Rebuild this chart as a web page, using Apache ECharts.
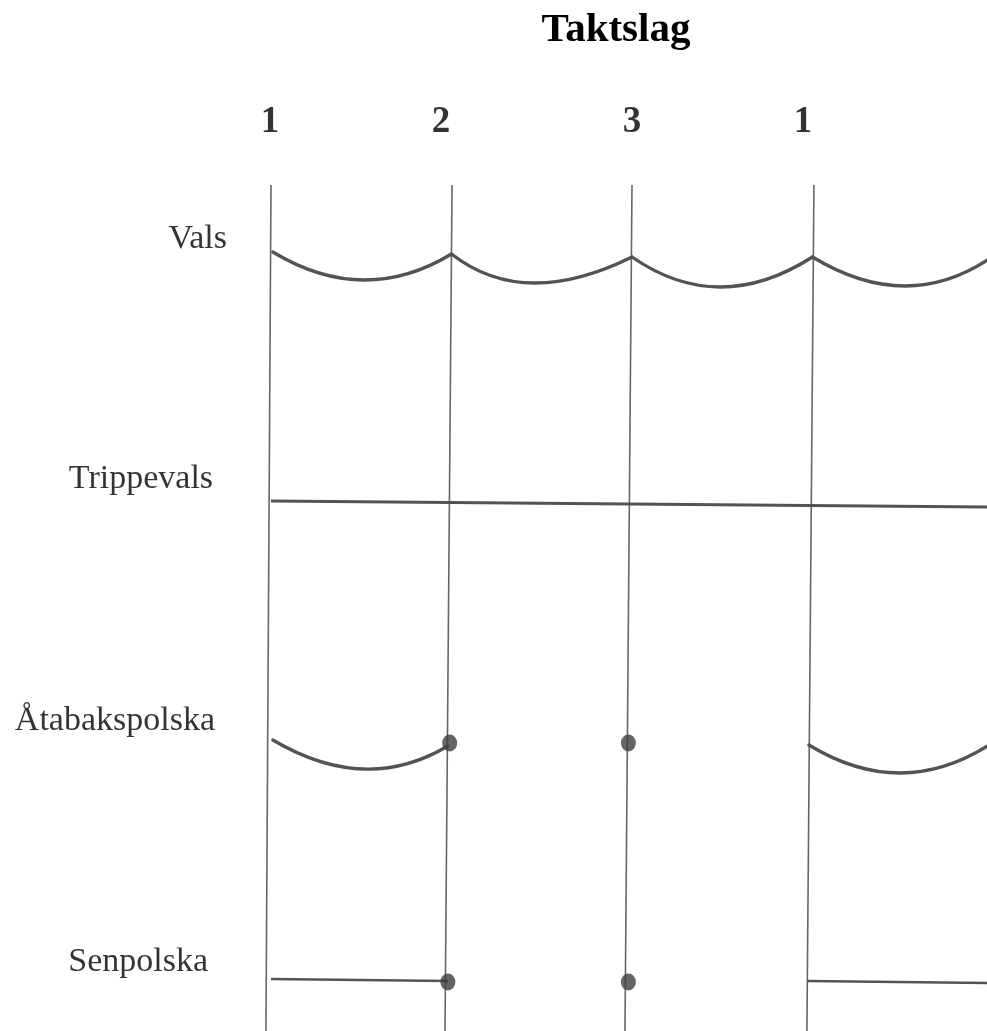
<!DOCTYPE html>
<html>
<head>
<meta charset="utf-8">
<script src="https://cdn.jsdelivr.net/npm/echarts@6/dist/echarts.min.js"></script>
<style>
html,body{margin:0;padding:0;background:#fff;}
#chart{width:987px;height:1031px;}
</style>
</head>
<body>
<div id="chart"></div>
<script>
// ---- data (x in beats, y in tenths of picture height units) ----
const titleText = 'Taktslag';
const beats = ['1', '2', '3', '1'];
const beatLabelX = [-0.006, 0.942, 2.0, 2.947];
const beatLabelY = 12.2;
const rowNames = ['Vals', 'Trippevals', 'Åtabakspolska', 'Senpolska'];
const rowLabelX = [-0.244, -0.321, -0.310, -0.349];
const rowLabelY = [23.9, 47.9, 72.1, 96.2];

// beat lines: [xTop, yTop, xBottom, yBottom]
const beatLines = [
  [0.000, 18.5, -0.028, 103.1],
  [1.003, 18.5, 0.964, 103.1],
  [2.000, 18.5, 1.961, 103.1],
  [3.008, 18.5, 2.969, 103.1]
];

// arcs: [xStart, yStart, xMid, yMid, xEnd, yEnd]
const valsArcs = [
  [0.01, 25.2, 0.51, 28.0, 1.00, 25.4],
  [1.00, 25.4, 1.45, 28.3, 2.00, 25.7],
  [2.00, 25.7, 2.49, 28.7, 3.00, 25.7],
  [3.00, 25.7, 3.50, 28.6, 3.97, 26.0]
];
const trippevalsLine = [[0.00, 50.1], [3.97, 50.7]];
const atabakArcs = [
  [0.01, 74.0, 0.51, 76.9, 0.98, 74.6],
  [2.98, 74.5, 3.48, 77.3, 3.97, 74.6]
];
const atabakDots = [[0.99, 74.3], [1.98, 74.3], [3.99, 74.5]];
const senpolskaLines = [
  [[0.00, 97.9], [0.98, 98.1]],
  [[2.97, 98.1], [3.97, 98.3]]
];
const senpolskaDots = [[0.98, 98.2], [1.98, 98.2], [3.99, 98.3]];

// ---- chart ----
const chart = echarts.init(document.getElementById('chart'), null, {renderer: 'canvas'});
const INK = '#535353';
const FONT = '"Liberation Serif", "Times New Roman", serif';

function renderArc(params, api) {
  const p0 = api.coord([api.value(0), api.value(1)]);
  const pm = api.coord([api.value(2), api.value(3)]);
  const p1 = api.coord([api.value(4), api.value(5)]);
  const cx = 2 * pm[0] - (p0[0] + p1[0]) / 2;
  const cy = 2 * pm[1] - (p0[1] + p1[1]) / 2;
  return {
    type: 'bezierCurve',
    shape: {x1: p0[0], y1: p0[1], x2: p1[0], y2: p1[1], cpx1: cx, cpy1: cy},
    style: {stroke: INK, lineWidth: 3.3, fill: 'none', lineCap: 'round'}
  };
}

const series = [];
beatLines.forEach(function (l) {
  series.push({
    type: 'line', data: [[l[0], l[1]], [l[2], l[3]]], symbol: 'none', silent: true,
    lineStyle: {color: '#666666', width: 1.6}, z: 1
  });
});
series.push({type: 'custom', renderItem: renderArc, data: valsArcs, z: 3, silent: true});
series.push({type: 'custom', renderItem: renderArc, data: atabakArcs, z: 3, silent: true});
series.push({
  type: 'line', data: trippevalsLine, symbol: 'none', silent: true,
  lineStyle: {color: INK, width: 3}, z: 3
});
senpolskaLines.forEach(function (l) {
  series.push({
    type: 'line', data: l, symbol: 'none', silent: true,
    lineStyle: {color: INK, width: 2.4}, z: 3
  });
});
series.push({
  type: 'scatter', data: atabakDots.concat(senpolskaDots), symbol: 'circle',
  symbolSize: [15, 17], itemStyle: {color: '#3f3f3f'}, z: 4, silent: true
});
// beat labels
series.push({
  type: 'scatter', symbolSize: 0, silent: true, z: 5,
  data: beats.map(function (b, i) { return {value: [beatLabelX[i], beatLabelY], name: b}; }),
  label: {
    show: true, position: 'inside', formatter: '{b}',
    fontFamily: FONT, fontWeight: 'bold', fontSize: 37, color: '#000000'
  }
});
// row labels
series.push({
  type: 'scatter', symbolSize: 0, silent: true, z: 5,
  data: rowNames.map(function (n, i) { return {value: [rowLabelX[i], rowLabelY[i]], name: n}; }),
  label: {
    show: true, position: 'left', distance: 0, formatter: '{b}',
    fontFamily: FONT, fontSize: 34, color: '#000000'
  }
});

chart.setOption({
  backgroundColor: '#ffffff',
  animation: false,
  grid: {left: 0, right: 0, top: 0, bottom: 0},
  xAxis: {type: 'value', min: -1.5014, max: 3.9668, show: false},
  yAxis: {type: 'value', min: 0, max: 103.1, inverse: true, show: false},
  graphic: [{
    type: 'text', x: 616, y: 30,
    style: {
      text: titleText, font: 'bold 41px ' + FONT, fill: '#000',
      align: 'center', verticalAlign: 'middle'
    }
  }],
  series: series
});
</script>
</body>
</html>
